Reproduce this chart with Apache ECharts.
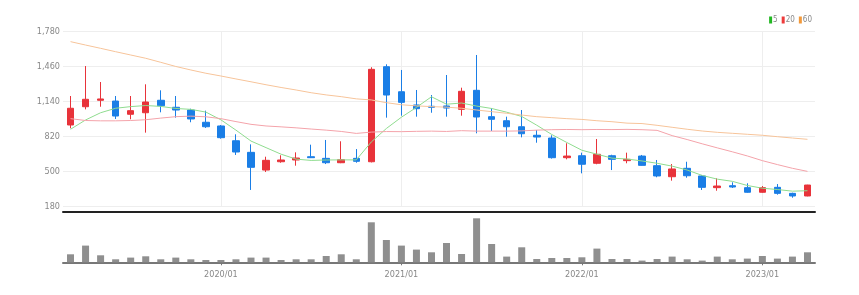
<!DOCTYPE html>
<html><head><meta charset="utf-8">
<script src="https://cdn.jsdelivr.net/npm/echarts@6/dist/echarts.min.js"></script>
<style>html,body{margin:0;padding:0;background:#fff}#c{width:859px;height:295px}</style>
</head><body><div id="c"></div>
<script>
const months = ['2019/03','2019/04','2019/05','2019/06','2019/07','2019/08','2019/09','2019/10','2019/11','2019/12',
'2020/01','2020/02','2020/03','2020/04','2020/05','2020/06','2020/07','2020/08','2020/09','2020/10','2020/11','2020/12',
'2021/01','2021/02','2021/03','2021/04','2021/05','2021/06','2021/07','2021/08','2021/09','2021/10','2021/11','2021/12',
'2022/01','2022/02','2022/03','2022/04','2022/05','2022/06','2022/07','2022/08','2022/09','2022/10','2022/11','2022/12',
'2023/01','2023/02','2023/03','2023/04'];
const openP  = [927,1094,1153,1146,1025,1039,1153,1089,1064,952,918,783,677,515,591,607,637,622,582,622,591,1460,1231,1110,1098,1101,1070,1244,1003,966,911,833,808,628,646,577,646,601,643,555,454,531,461,354,372,354,312,357,302,278];
const closeP = [1080,1162,1165,1009,1058,1137,1103,1064,982,911,811,680,540,604,607,625,628,582,610,595,1436,1201,1134,1076,1089,1082,1235,1000,979,911,847,817,628,643,568,659,613,613,558,461,525,463,357,369,360,312,354,302,278,378];
const lowP   = [897,1070,1094,982,979,857,1043,994,952,900,802,653,333,497,582,555,625,570,578,582,585,994,1012,1003,1039,1003,1012,851,872,820,814,765,620,613,485,568,515,577,555,449,418,445,333,326,351,308,308,290,262,275];
const highP  = [1192,1466,1320,1192,1192,1299,1244,1192,1076,1058,927,842,750,637,650,677,747,790,778,707,1455,1482,1430,1247,1201,1384,1268,1567,1080,1003,1064,881,833,760,674,799,655,674,653,607,570,591,470,440,403,394,369,387,308,380];
const ma5  = [888,973,1039,1080,1095,1105,1097,1078,1070,1045,974,880,780,720,660,615,603,607,608,608,772,895,998,1088,1185,1117,1128,1100,1078,1044,1005,925,840,767,696,660,624,616,598,577,551,515,466,432,412,374,349,337,322,326];
const ma20 = [985,968,965,965,968,975,990,1003,1008,1002,985,958,933,918,910,901,890,880,868,850,862,867,866,869,871,868,875,871,871,871,873,880,884,886,884,886,885,887,884,878,830,794,755,718,682,644,601,565,531,503];
const ma60 = [1689,1658,1628,1597,1567,1537,1500,1462,1430,1400,1375,1348,1322,1295,1270,1247,1222,1202,1186,1166,1156,1131,1112,1102,1095,1090,1080,1064,1049,1034,1018,1003,994,985,978,966,957,944,940,924,906,888,872,860,851,842,833,820,808,796];
const volume = [800,1670,700,300,470,600,300,470,300,230,230,300,470,470,230,300,300,630,800,300,4000,2230,1670,1270,1000,1930,830,4400,1830,570,1500,330,430,430,500,1370,330,330,170,330,570,300,170,570,300,370,630,370,570,1000];
const yTicks = [180,500,820,1140,1460,1780];

const F = "'Liberation Sans Narrow','DejaVu Sans Condensed',sans-serif";
const candles = months.map((m,i)=>[openP[i],closeP[i],lowP[i],highP[i]]);
const isJan = (i, v) => String(v).endsWith('/01');
const chart = echarts.init(document.getElementById('c'));
chart.setOption({
  animation:false,
  legend:{data:['5','20','60'], right:47, top:16, icon:'rect', itemWidth:3, itemHeight:7, itemGap:4, padding:0,
    textStyle:{fontSize:8,color:'#888',fontFamily:F, padding:[0,0,0,-4]}},
  grid:[{left:63,right:44,top:31.7,height:175},{left:63,right:44,top:218,height:44.3}],
  xAxis:[
    {type:'category', data:months, gridIndex:0, boundaryGap:true, offset:5,
     axisLine:{lineStyle:{color:'#222',width:2}}, axisTick:{show:false}, axisLabel:{show:false},
     splitLine:{show:true, interval:isJan, alignWithLabel:true, lineStyle:{color:'#eeeeee'}}},
    {type:'category', data:months, gridIndex:1, boundaryGap:true,
     axisLine:{lineStyle:{color:'#777',width:2}},
     axisTick:{show:true, interval:isJan, alignWithLabel:true, length:3, lineStyle:{color:'#777'}},
     axisLabel:{interval:isJan, color:'#888', fontSize:9, margin:8, fontFamily:F},
     splitLine:{show:false}}
  ],
  yAxis:[
    {type:'value', gridIndex:0, min:yTicks[0], max:yTicks[yTicks.length-1], interval:yTicks[1]-yTicks[0],
     axisLabel:{formatter:v=>v.toLocaleString('en-US'), color:'#888', fontSize:9, margin:3, fontFamily:F},
     splitLine:{lineStyle:{color:'#eeeeee'}}, axisLine:{show:false}, axisTick:{show:false}},
    {type:'value', gridIndex:1, min:0, max:4430, show:false, splitLine:{show:false}}
  ],
  series:[
    {type:'candlestick', name:'price', xAxisIndex:0, yAxisIndex:0, data:candles, barWidth:7,
     itemStyle:{color:'#e8333a', color0:'#1a7ee6', borderColor:'#e8333a', borderColor0:'#1a7ee6', borderWidth:1}},
    {type:'line', name:'5', data:ma5, symbol:'none', smooth:false, color:'#22b822',
     lineStyle:{width:1, color:'#8fdc8f'}},
    {type:'line', name:'20', data:ma20, symbol:'none', smooth:false, color:'#ee3b3b',
     lineStyle:{width:1, color:'#f4a3aa'}},
    {type:'line', name:'60', data:ma60, symbol:'none', smooth:false, color:'#f2993a',
     lineStyle:{width:1, color:'#f7c49a'}},
    {type:'bar', name:'volume', xAxisIndex:1, yAxisIndex:1, data:volume, barWidth:7,
     itemStyle:{color:'#8f8f8f'}}
  ]
});
</script></body></html>
